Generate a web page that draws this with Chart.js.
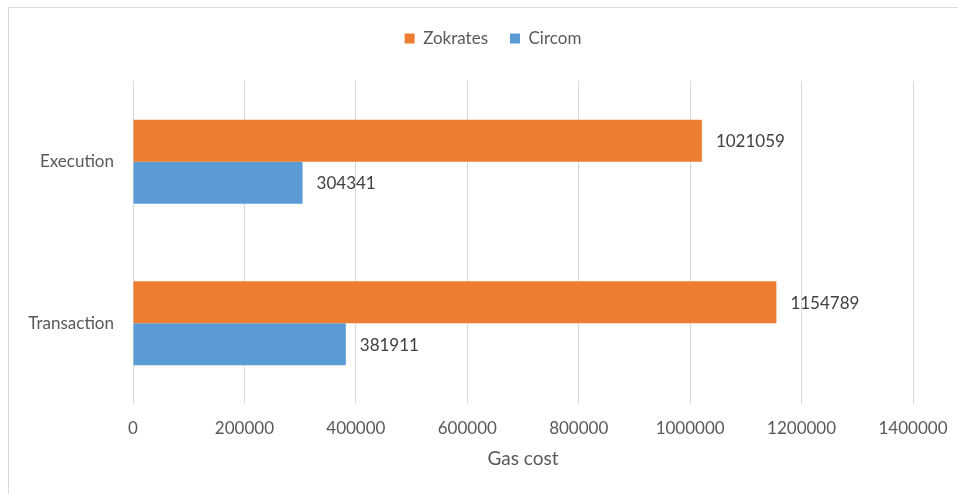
<!DOCTYPE html>
<html>
<head>
<meta charset="utf-8">
<script src="https://cdn.jsdelivr.net/npm/chart.js@4"></script>
<style>
    html, body { margin: 0; padding: 0; background: #fff; overflow: hidden; }
    #frame {
        position: absolute; left: 8px; top: 7px;
        width: 968px; height: 500px;
        border: 1px solid #d9d9d9;
    }
    #wrap { position: absolute; left: 0; top: 0; width: 968px; height: 486px; }
</style>
</head>
<body>
<div id="frame"><div id="wrap"><canvas id="gasChart"></canvas></div></div>
<script>
// Values
const categories = ['Execution', 'Transaction'];
const zokratesValues = [1021059, 1154789];
const circomValues = [304341, 381911];
const xTicks = [0, 200000, 400000, 600000, 800000, 1000000, 1200000, 1400000];

const FONT = 'Lato, "Open Sans", sans-serif';
const TEXT = '#595959';

// Excel leaves a gap under the legend and centres it on the whole frame
const legendSpacer = {
    id: 'legendSpacer',
    beforeInit(chart) {
        const fit = chart.legend.fit;
        chart.legend.fit = function () {
            fit.call(this);
            this.height += 24;
        };
    },
    afterLayout(chart) {
        chart.legend.left = 0;
        chart.legend.right = chart.width;
        chart.legend.width = chart.width;
    }
};

// Value labels just past the end of each bar
const barValueLabels = {
    id: 'barValueLabels',
    afterDatasetsDraw(chart) {
        const ctx = chart.ctx;
        ctx.save();
        ctx.font = '17px ' + FONT;
        ctx.fillStyle = '#404040';
        ctx.textAlign = 'left';
        ctx.textBaseline = 'middle';
        chart.data.datasets.forEach((ds, i) => {
            chart.getDatasetMeta(i).data.forEach((bar, j) => {
                ctx.fillText(String(ds.data[j]), bar.x + 14, bar.y + 1);
            });
        });
        ctx.restore();
    }
};

new Chart(document.getElementById('gasChart'), {
    type: 'bar',
    data: {
        labels: categories,
        datasets: [
            {
                label: 'Zokrates',
                data: zokratesValues,
                backgroundColor: '#ED7D31'
            },
            {
                label: 'Circom',
                data: circomValues,
                backgroundColor: '#5B9BD5'
            }
        ]
    },
    options: {
        indexAxis: 'y',
        responsive: true,
        maintainAspectRatio: false,
        animation: false,
        datasets: {
            bar: { categoryPercentage: 0.52, barPercentage: 1.0 }
        },
        layout: { padding: { top: 0, left: 0, right: 64, bottom: 0 } },
        plugins: {
            legend: {
                position: 'top',
                labels: {
                    boxWidth: 10,
                    boxHeight: 10,
                    padding: 22,
                    color: TEXT,
                    font: { family: FONT, size: 17 }
                }
            },
            tooltip: { enabled: false }
        },
        scales: {
            x: {
                min: 0,
                max: 1400000,
                afterBuildTicks: (scale) => {
                    scale.ticks = xTicks.map(v => ({ value: v }));
                },
                afterFit: (scale) => { scale.height = 90; },
                ticks: {
                    padding: 14,
                    color: TEXT,
                    font: { family: FONT, size: 17 },
                    callback: (value) => String(value)
                },
                grid: { color: '#d9d9d9', lineWidth: 1, drawTicks: false },
                border: { display: false },
                title: {
                    display: true,
                    text: 'Gas cost',
                    color: TEXT,
                    font: { family: FONT, size: 19 },
                    padding: { top: 0, bottom: 24 }
                }
            },
            y: {
                afterFit: (scale) => { scale.width = 124; },
                ticks: {
                    padding: 19,
                    color: TEXT,
                    font: { family: FONT, size: 17 }
                },
                grid: { display: false, drawTicks: false },
                border: { display: false }
            }
        }
    },
    plugins: [legendSpacer, barValueLabels]
});
</script>
</body>
</html>
